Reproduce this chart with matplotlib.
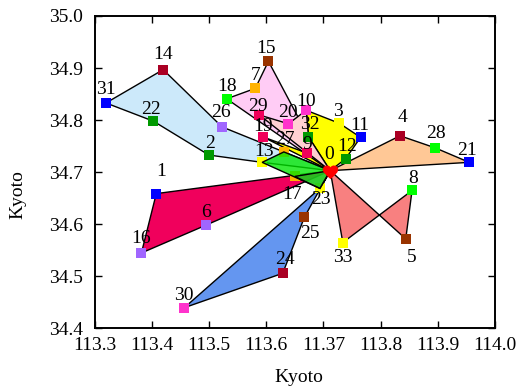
import matplotlib
matplotlib.use("Agg")
import matplotlib.pyplot as plt
from matplotlib.path import Path
from matplotlib.patches import Polygon

plt.rcParams['font.family'] = ['Liberation Serif', 'DejaVu Serif']
plt.rcParams['font.size'] = 14

# Station coordinates (index 0 is the hub)
lon = [113.712, 113.408, 113.500, 113.728, 113.834, 113.844, 113.494, 113.581,
       113.855, 113.671, 113.670, 113.765, 113.739, 113.593, 113.420, 113.604,
       113.382, 113.650, 113.531, 113.594, 113.639, 113.955, 113.403, 113.694,
       113.629, 113.667, 113.523, 113.631, 113.895, 113.588, 113.457, 113.320,
       113.674, 113.734]
lat = [34.703, 34.659, 34.733, 34.794, 34.770, 34.572, 34.598, 34.861,
       34.665, 34.737, 34.819, 34.767, 34.726, 34.719, 34.897, 34.913,
       34.545, 34.692, 34.841, 34.768, 34.793, 34.719, 34.798, 34.669,
       34.506, 34.614, 34.787, 34.739, 34.747, 34.810, 34.440, 34.833,
       34.768, 34.565]

# Marker colours cycle through ten shades for stations 1..33
palette = ['#0000ff', '#009900', '#ffff00', '#aa0024', '#993300',
           '#a066ff', '#ffb300', '#00ff00', '#f0005a', '#ff33cc']

# Regions: vertex indices and fill colour
regions_below = [
    ([0, 13, 2, 22, 31, 14, 26], '#cce9fa'),
    ([0, 19, 9, 32, 10, 3, 11, 12], '#ffff00'),
    ([0, 18, 7, 15, 32], '#ffccf5'),
    ([0, 29, 20, 10, 32], '#ffd0d2'),
    ([0, 4, 28, 21], '#ffc896'),
    ([0, 33, 8, 5], '#f88080'),
    ([0, 1, 16, 6], '#f0005c'),
    ([0, 23, 30, 24, 25], '#6496f0'),
]
regions_above = [
    ([0, 27, 13, 23], '#00e600', 0.78),
    ([0, 17, 23], '#2dbb2d', 0.6),
]

x_ticks = [113.3, 113.4, 113.5, 113.6, 113.7, 113.8, 113.9, 114.0]
x_tick_labels = ['113.3', '113.4', '113.5', '113.6', '11.37', '113.8', '113.9', '114.0']
y_ticks = [34.4, 34.5, 34.6, 34.7, 34.8, 34.9, 35.0]

# Label placement (pixel offsets, right / down)
label_offsets = {
    0: (-1, -16), 1: (5, -22), 2: (1, -12), 3: (-1, -12), 4: (2, -18), 5: (6, 19),
    6: (0, -13), 7: (0, -13), 8: (1, -12), 9: (0, -8), 10: (0, -9), 11: (-1, -12),
    12: (1, -12), 13: (2, -11), 14: (0, -15), 15: (-2, -13), 16: (0, -14),
    17: (-3, 18), 18: (0, -12), 19: (0, -10), 20: (-1, -11), 21: (-2, -12),
    22: (-2, -12), 23: (1, 11), 24: (2, -14), 25: (5, 16), 26: (-1, -14),
    27: (1, -12), 28: (1, -14), 29: (-1, -8), 30: (-1, -12), 31: (0, -13),
    32: (1, -12), 33: (0, 15),
}

heart = Path(
    [(0, -1.0), (-0.6, -0.45), (-1.1, -0.1), (-1.0, 0.35),
     (-0.9, 0.85), (-0.25, 0.95), (0, 0.55),
     (0.25, 0.95), (0.9, 0.85), (1.0, 0.35),
     (1.1, -0.1), (0.6, -0.45), (0, -1.0), (0, -1.0)],
    [Path.MOVETO, Path.CURVE4, Path.CURVE4, Path.CURVE4,
     Path.CURVE4, Path.CURVE4, Path.CURVE4,
     Path.CURVE4, Path.CURVE4, Path.CURVE4,
     Path.CURVE4, Path.CURVE4, Path.CURVE4, Path.CLOSEPOLY])

fig = plt.figure(figsize=(5.21, 3.90), dpi=100)
ax = fig.add_axes([0.1814, 0.1577, 0.7687, 0.8013])

for idx, color in regions_below:
    pts = [(lon[i], lat[i]) for i in idx]
    ax.add_patch(Polygon(pts, closed=True, facecolor=color, edgecolor='black',
                         linewidth=1.0, zorder=1))

for i in range(1, len(lon)):
    ax.plot(lon[i], lat[i], marker='s', ms=7, color=palette[(i - 1) % 10],
            markeredgewidth=0, linestyle='none', zorder=2)

for idx, color, alpha in regions_above:
    pts = [(lon[i], lat[i]) for i in idx]
    ax.add_patch(Polygon(pts, closed=True, facecolor=color, alpha=alpha,
                         edgecolor='none', zorder=3))
    ax.add_patch(Polygon(pts, closed=True, facecolor='none', edgecolor='black',
                         linewidth=1.0, zorder=3))

ax.plot(lon[0], lat[0], marker=heart, ms=12, color='#ff0000',
        markeredgewidth=0, linestyle='none', zorder=5)

for i in range(len(lon)):
    dx, dy = label_offsets[i]
    ax.annotate(str(i), (lon[i], lat[i]), xytext=(dx, -dy),
                textcoords='offset pixels', ha='center', va='center',
                fontsize=14, zorder=6)

ax.set_xlim(113.3, 114.0)
ax.set_ylim(34.4, 35.0)
ax.set_xticks(x_ticks)
ax.set_xticklabels(x_tick_labels)
ax.set_yticks(y_ticks)
ax.set_yticklabels([f'{v:.1f}' for v in y_ticks])
ax.tick_params(direction='in', length=5, width=1.0, top=True, right=True,
               labelsize=14)
ax.tick_params(axis='x', pad=6)
ax.tick_params(axis='y', pad=8)
for s in ax.spines.values():
    s.set_linewidth(1.4)

ax.set_xlabel('Kyoto', fontsize=14)
ax.set_ylabel('Kyoto', fontsize=14)
ax.xaxis.set_label_coords(0.51, -0.13)
ax.yaxis.set_label_coords(-0.17, 0.43)

fig.savefig('out.png', dpi=100)
